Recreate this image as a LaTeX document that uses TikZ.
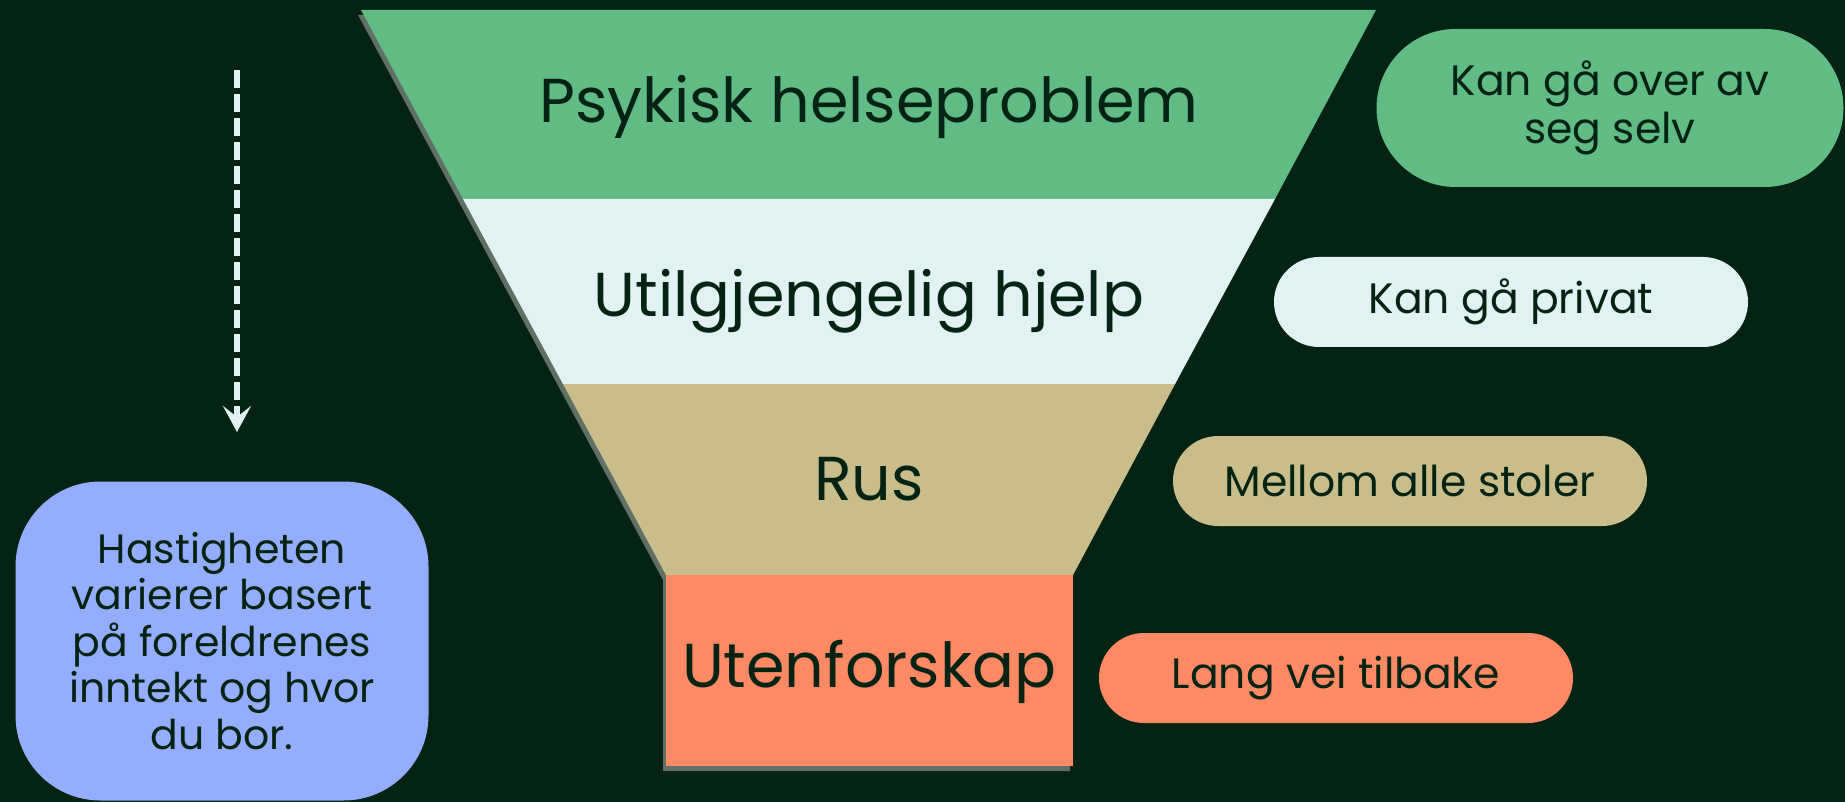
\documentclass[tikz,border=0pt]{standalone}
\usepackage{fontspec}
\setmainfont{Poppins}
\usetikzlibrary{arrows.meta}

\definecolor{bg}{RGB}{5,35,18}
\definecolor{ink}{RGB}{5,35,18}
\definecolor{leafgreen}{RGB}{96,187,133}
\definecolor{icewhite}{RGB}{224,242,241}
\definecolor{sand}{RGB}{201,189,140}
\definecolor{coral}{RGB}{255,138,101}
\definecolor{skyblue}{RGB}{147,173,255}
\definecolor{funnelshadow}{RGB}{96,112,101}

\begin{document}
\begin{tikzpicture}[x=1pt,y=-1pt,text=ink,semithick]
  \tikzstyle{band label}=[font=\fontsize{62}{64}\selectfont,anchor=base]
  \tikzstyle{pill}=[draw=none,inner sep=0pt,align=center,minimum width=474pt,minimum height=90pt,rounded corners=45pt,font=\fontsize{42.5}{48}\selectfont]
  \tikzstyle{bignote}=[draw=none,inner sep=0pt,align=center,minimum width=413pt,minimum height=319pt,rounded corners=85pt,font=\fontsize{41}{46.5}\selectfont]

  \fill[bg] (0,0) rectangle (1845,802);
  \useasboundingbox (0,0) rectangle (1845,802);

  \coordinate (tl) at (361,10);
  \coordinate (tr) at (1376,10);
  \coordinate (bl) at (666,766);
  \coordinate (br) at (1073,766);

  \fill[funnelshadow] ([shift={(-3,5)}]tl) -- ([shift={(-3,5)}]tr) -- (1070,580) -- ([shift={(-3,5)}]br) -- ([shift={(-3,5)}]bl) -- (663,580) -- cycle;
  \fill[leafgreen] (tl) -- (tr) -- (1275,199) -- (463,199) -- cycle;
  \fill[icewhite] (463,199) -- (1275,199) -- (1175,384) -- (563,384) -- cycle;
  \fill[sand] (563,384) -- (1175,384) -- (1073,575) -- (666,575) -- cycle;
  \fill[coral] (666,575) -- (1073,575) -- (br) -- (bl) -- cycle;

  \node[band label] (psykisk) at (869,123) {Psykisk helseproblem};
  \node[band label] (hjelp) at (869,317) {Utilgjengelig hjelp};
  \node[band label] (rus) at (869,500) {Rus};
  \node[band label] (utenfor) at (869,687) {Utenforskap};

  \node[pill,fill=leafgreen,minimum width=467pt,minimum height=158pt,rounded corners=79pt] (selv) at (1610,108) {Kan gå over av\\seg selv};
  \node[pill,fill=icewhite] (privat) at (1511,302) {Kan gå privat};
  \node[pill,fill=sand] (stoler) at (1410,481) {Mellom alle stoler};
  \node[pill,fill=coral] (tilbake) at (1336,678) {Lang vei tilbake};

  \node[bignote,fill=skyblue] (fart) at (222,641) {Hastigheten\\varierer basert\\på foreldrenes\\inntekt og hvor\\du bor.};

  \coordinate (pilstart) at (237,70);
  \coordinate (pilslutt) at (237,432);
  \draw[icewhite,line width=6pt,dash pattern=on 18pt off 6pt,-{Stealth[length=26pt,width=28pt,inset=11pt]}] (pilstart) -- (pilslutt);
\end{tikzpicture}
\end{document}
